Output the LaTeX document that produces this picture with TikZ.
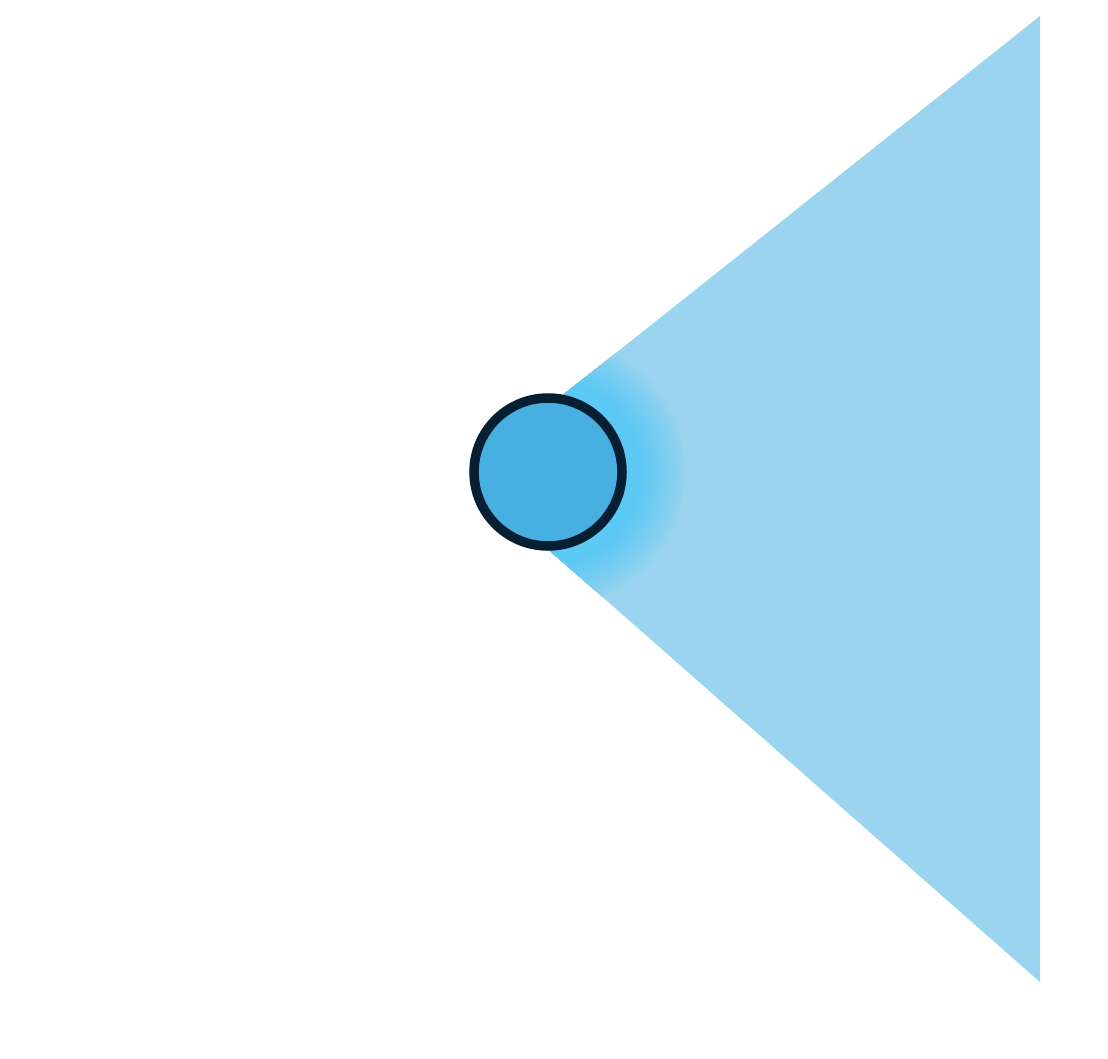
\documentclass[tikz,border=0pt]{standalone}
\definecolor{tri}{HTML}{9AD4EE}
\definecolor{glowc}{HTML}{5CC8F4}
\definecolor{dotfill}{HTML}{48B0E0}
\definecolor{dotline}{HTML}{061F33}
\begin{document}
\begin{tikzpicture}[x=1pt,y=-1pt,
  beam/.style={fill=tri,draw=none},
  dot/.style={circle,draw=dotline,line width=9.5pt,fill=dotfill,minimum size=148pt,inner sep=0pt}]
\useasboundingbox (0,0) rectangle (1108,1059);
\fill[white] (0,0) rectangle (1108,1059);
\coordinate (a) at (548,407);
\coordinate (b) at (1040,16);
\coordinate (c) at (1040,982);
\coordinate (d) at (548,549);
\fill[beam] (a) -- (b) -- (c) -- (d) -- cycle;
\begin{scope}
  \clip (a) -- (b) -- (c) -- (d) -- cycle;
  \foreach \i in {0,...,40}{
    \pgfmathsetmacro{\r}{138-\i*(138-92)/40}
    \pgfmathsetmacro{\p}{100*(\i/40)^0.8}
    \fill[glowc!\p!tri] (548,472) circle (\r);
  }
\end{scope}
\node[dot] (s) at (548,472) {};
\end{tikzpicture}
\end{document}
